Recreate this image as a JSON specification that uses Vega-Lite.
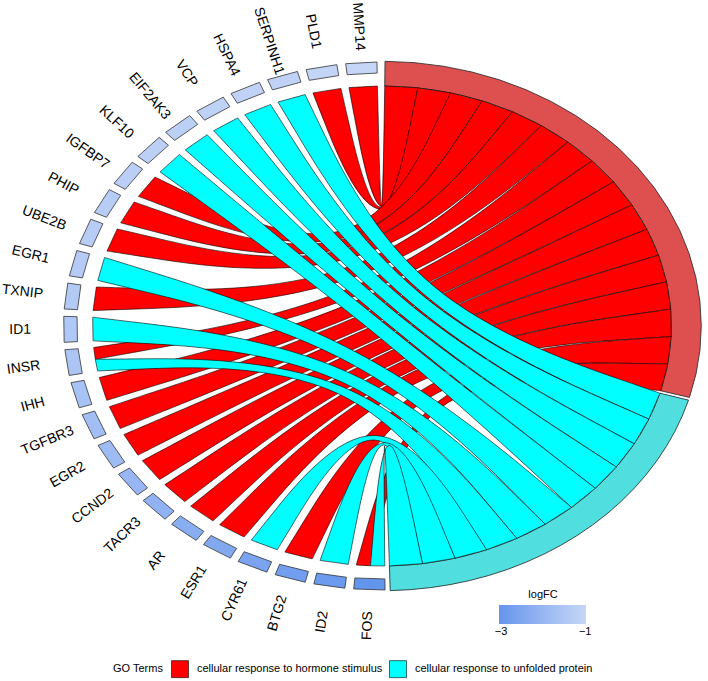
{
  "$schema": "https://vega.github.io/schema/vega-lite/v6.json",
  "width": 708,
  "height": 681,
  "autosize": {"type": "none"},
  "padding": 0,
  "config": {"view": {"stroke": null}, "font": "Liberation Sans"},
  "data": {
    "values": [
      {"gene": "MMP14", "logFC": -1.0, "term": "cellular response to hormone stimulus"},
      {"gene": "PLD1", "logFC": -1.05, "term": "cellular response to hormone stimulus"},
      {"gene": "SERPINH1", "logFC": -1.1, "term": "cellular response to unfolded protein"},
      {"gene": "HSPA4", "logFC": -1.1, "term": "cellular response to unfolded protein"},
      {"gene": "VCP", "logFC": -1.15, "term": "cellular response to unfolded protein"},
      {"gene": "EIF2AK3", "logFC": -1.2, "term": "cellular response to unfolded protein"},
      {"gene": "KLF10", "logFC": -1.2, "term": "cellular response to unfolded protein"},
      {"gene": "IGFBP7", "logFC": -1.25, "term": "cellular response to hormone stimulus"},
      {"gene": "PHIP", "logFC": -1.3, "term": "cellular response to hormone stimulus"},
      {"gene": "UBE2B", "logFC": -1.3, "term": "cellular response to hormone stimulus"},
      {"gene": "EGR1", "logFC": -1.35, "term": "cellular response to unfolded protein"},
      {"gene": "TXNIP", "logFC": -1.4, "term": "cellular response to hormone stimulus"},
      {"gene": "ID1", "logFC": -1.45, "term": "cellular response to unfolded protein"},
      {"gene": "INSR", "logFC": -1.55, "term": "cellular response to hormone stimulus"},
      {"gene": "INSR", "logFC": -1.55, "term": "cellular response to unfolded protein"},
      {"gene": "IHH", "logFC": -1.65, "term": "cellular response to hormone stimulus"},
      {"gene": "TGFBR3", "logFC": -1.75, "term": "cellular response to hormone stimulus"},
      {"gene": "EGR2", "logFC": -1.85, "term": "cellular response to hormone stimulus"},
      {"gene": "CCND2", "logFC": -2.0, "term": "cellular response to hormone stimulus"},
      {"gene": "TACR3", "logFC": -2.15, "term": "cellular response to hormone stimulus"},
      {"gene": "AR", "logFC": -2.3, "term": "cellular response to hormone stimulus"},
      {"gene": "ESR1", "logFC": -2.45, "term": "cellular response to hormone stimulus"},
      {"gene": "CYR61", "logFC": -2.6, "term": "cellular response to unfolded protein"},
      {"gene": "BTG2", "logFC": -2.75, "term": "cellular response to hormone stimulus"},
      {"gene": "ID2", "logFC": -2.9, "term": "cellular response to unfolded protein"},
      {"gene": "FOS", "logFC": -3.05, "term": "cellular response to hormone stimulus"},
      {"gene": "FOS", "logFC": -3.05, "term": "cellular response to unfolded protein"}
    ]
  },
  "transform": [
    {"window": [{"op": "row_number", "as": "ln"}]},
    {"joinaggregate": [{"op": "min", "field": "ln", "as": "gfirst"}, {"op": "count", "as": "np"}], "groupby": ["gene"]},
    {"window": [{"op": "dense_rank", "as": "gr"}], "sort": [{"field": "gfirst"}]},
    {"window": [{"op": "dense_rank", "as": "tr"}], "sort": [{"field": "term"}]},
    {"window": [{"op": "row_number", "as": "slot"}], "sort": [{"field": "term"}, {"field": "ln"}]},
    {"calculate": "datum.gr - 1", "as": "gi"},
    {"calculate": "datum.ln - datum.gfirst", "as": "part"},
    {"calculate": "datum.slot - 1", "as": "s"},
    {"calculate": "datum.tr - 1", "as": "trr"},
    {"calculate": "90.9 + datum.gi * 7.25", "as": "gs"},
    {"calculate": "datum.gs + datum.part * 5.65 / datum.np", "as": "a1"},
    {"calculate": "datum.a1 + 5.65 / datum.np", "as": "a2"},
    {"calculate": "89.46 - datum.s * 6.57 - datum.trr * 0.6", "as": "t2"},
    {"calculate": "datum.t2 - 6.57", "as": "t1"},
    {"calculate": "cos(datum.a1 * PI / 180)", "as": "ax1"},
    {"calculate": "sin(datum.a1 * PI / 180)", "as": "ay1"},
    {"calculate": "cos(datum.a2 * PI / 180)", "as": "ax2"},
    {"calculate": "sin(datum.a2 * PI / 180)", "as": "ay2"},
    {"calculate": "cos(datum.t1 * PI / 180)", "as": "bx1"},
    {"calculate": "sin(datum.t1 * PI / 180)", "as": "by1"},
    {"calculate": "cos(datum.t2 * PI / 180)", "as": "bx2"},
    {"calculate": "sin(datum.t2 * PI / 180)", "as": "by2"},
    {"calculate": "0.125 * (datum.ax2 + datum.bx1)", "as": "c1x"},
    {"calculate": "0.125 * (datum.ay2 + datum.by1)", "as": "c1y"},
    {"calculate": "0.125 * (datum.bx2 + datum.ax1)", "as": "c2x"},
    {"calculate": "0.125 * (datum.by2 + datum.ay1)", "as": "c2y"}
  ],
  "encoding": {
    "x": {"field": "px", "type": "quantitative", "scale": {"domain": [-1.3195, 1.1261], "nice": false, "zero": false}, "axis": null},
    "y": {"field": "py", "type": "quantitative", "scale": {"domain": [-1.4792, 1.3583], "nice": false, "zero": false}, "axis": null}
  },
  "layer": [
    {
      "transform": [
        {"aggregate": [{"op": "count", "as": "n"}, {"op": "min", "field": "trr", "as": "trr"}], "groupby": ["term"]},
        {"window": [{"op": "sum", "field": "n", "as": "cum"}], "sort": [{"field": "term"}], "frame": [null, 0]},
        {"calculate": "89.46 - (datum.cum - datum.n) * 6.57 - datum.trr * 0.6", "as": "ttop"},
        {"calculate": "datum.ttop - datum.n * 6.57", "as": "tbot"},
        {"calculate": "[0,1,2,3,4,5,6,7,8,9,10,11,12,13,14,15,16,17,18,19,20,21,22,23,24,25,26,27,28,29,30,31,32,33,34,35,36,37,38,39,40,41]", "as": "ks"},
        {"flatten": ["ks"], "as": ["k"]},
        {"calculate": "datum.k < 21 ? datum.k / 20 : (41 - datum.k) / 20", "as": "f"},
        {"calculate": "datum.k < 21 ? 1.103 : 1.0", "as": "rr"},
        {"calculate": "(datum.ttop + (datum.tbot - datum.ttop) * datum.f) * PI / 180", "as": "th"},
        {"calculate": "datum.rr * cos(datum.th)", "as": "px"},
        {"calculate": "datum.rr * sin(datum.th)", "as": "py"}
      ],
      "mark": {"type": "line", "filled": true, "interpolate": "linear-closed", "stroke": "#222222", "strokeWidth": 0.8},
      "encoding": {
        "detail": {"field": "term"},
        "order": {"field": "k", "type": "quantitative"},
        "fill": {"condition": {"test": "datum.term === 'cellular response to hormone stimulus'", "value": "#DE5050"}, "value": "#50DEDE"}
      }
    },
    {
      "transform": [
        {"filter": "datum.part == 0"},
        {"calculate": "[0,1,2,3]", "as": "ks"},
        {"flatten": ["ks"], "as": ["k"]},
        {"calculate": "((datum.k == 0 || datum.k == 3) ? datum.gs : datum.gs + 5.65) * PI / 180", "as": "th"},
        {"calculate": "datum.k < 2 ? 1.10 : 1.054", "as": "rr"},
        {"calculate": "datum.rr * cos(datum.th)", "as": "px"},
        {"calculate": "datum.rr * sin(datum.th)", "as": "py"}
      ],
      "mark": {"type": "line", "filled": true, "interpolate": "linear-closed", "stroke": "#333333", "strokeWidth": 0.8},
      "encoding": {
        "detail": {"field": "gene"},
        "order": {"field": "k", "type": "quantitative"},
        "fill": {
          "field": "logFC", "type": "quantitative",
          "scale": {"domain": [-3.05, -0.98], "range": ["#6495ED", "#C6D7F7"]},
          "legend": {"title": "logFC", "orient": "none", "legendX": 499, "legendY": 589, "direction": "horizontal", "gradientLength": 87, "gradientThickness": 19, "values": [-3, -1], "titleFontSize": 11, "titleFontWeight": "normal", "titleAnchor": "middle", "labelFontSize": 11, "gradientStrokeWidth": 0}
        }
      }
    },
    {
      "transform": [
        {"filter": "datum.term === 'cellular response to hormone stimulus'"},
        {"calculate": "[[datum.ax1,datum.ay1,0],[datum.ax1,datum.ay1,1],[datum.ax1,datum.ay1,2],[datum.ax2,datum.ay2,3],[datum.ax2,datum.ay2,4],[datum.ax2,datum.ay2,5],[datum.c1x,datum.c1y,6],[datum.bx1,datum.by1,7],[datum.bx1,datum.by1,8],[datum.bx1,datum.by1,9],[datum.bx2,datum.by2,10],[datum.bx2,datum.by2,11],[datum.bx2,datum.by2,12],[datum.c2x,datum.c2y,13]]", "as": "verts"},
        {"flatten": ["verts"], "as": ["v"]},
        {"calculate": "datum.v[0]", "as": "px"},
        {"calculate": "datum.v[1]", "as": "py"},
        {"calculate": "datum.v[2]", "as": "vi"}
      ],
      "mark": {"type": "line", "filled": true, "interpolate": "basis-closed", "stroke": "black", "strokeWidth": 0.6},
      "encoding": {
        "detail": {"field": "ln"},
        "order": {"field": "vi", "type": "quantitative"},
        "color": {
          "field": "term", "type": "nominal",
          "scale": {"domain": ["cellular response to hormone stimulus", "cellular response to unfolded protein"], "range": ["#FF0000", "#00FFFF"]},
          "legend": {"title": "GO Terms", "orient": "none", "legendX": 113, "legendY": 660, "direction": "horizontal", "titleOrient": "left", "titleFontSize": 11, "titleFontWeight": "normal", "titlePadding": 7, "labelFontSize": 11, "labelLimit": 0, "symbolType": "square", "symbolSize": 289, "symbolStrokeColor": "black", "symbolStrokeWidth": 0.6, "symbolOpacity": 1, "columnPadding": 5, "labelOffset": 8}
        }
      }
    },
    {
      "transform": [
        {"filter": "datum.term === 'cellular response to unfolded protein'"},
        {"calculate": "[[datum.ax1,datum.ay1,0],[datum.ax1,datum.ay1,1],[datum.ax1,datum.ay1,2],[datum.ax2,datum.ay2,3],[datum.ax2,datum.ay2,4],[datum.ax2,datum.ay2,5],[datum.c1x,datum.c1y,6],[datum.bx1,datum.by1,7],[datum.bx1,datum.by1,8],[datum.bx1,datum.by1,9],[datum.bx2,datum.by2,10],[datum.bx2,datum.by2,11],[datum.bx2,datum.by2,12],[datum.c2x,datum.c2y,13]]", "as": "verts"},
        {"flatten": ["verts"], "as": ["v"]},
        {"calculate": "datum.v[0]", "as": "px"},
        {"calculate": "datum.v[1]", "as": "py"},
        {"calculate": "datum.v[2]", "as": "vi"}
      ],
      "mark": {"type": "line", "filled": true, "interpolate": "basis-closed", "stroke": "black", "strokeWidth": 0.6},
      "encoding": {
        "detail": {"field": "ln"},
        "order": {"field": "vi", "type": "quantitative"},
        "color": {"field": "term", "type": "nominal"}
      }
    },
    {
      "transform": [
        {"filter": "datum.part == 0"},
        {"calculate": "datum.gs + 2.825", "as": "tm"},
        {"calculate": "1.25 * cos(datum.tm * PI / 180)", "as": "px"},
        {"calculate": "1.25 * sin(datum.tm * PI / 180)", "as": "py"},
        {"calculate": "180 - datum.tm", "as": "ang"}
      ],
      "mark": {"type": "text", "fontSize": 14, "align": "center", "baseline": "middle", "color": "black"},
      "encoding": {
        "text": {"field": "gene"},
        "angle": {"field": "ang", "type": "quantitative", "scale": null}
      }
    }
  ]
}
